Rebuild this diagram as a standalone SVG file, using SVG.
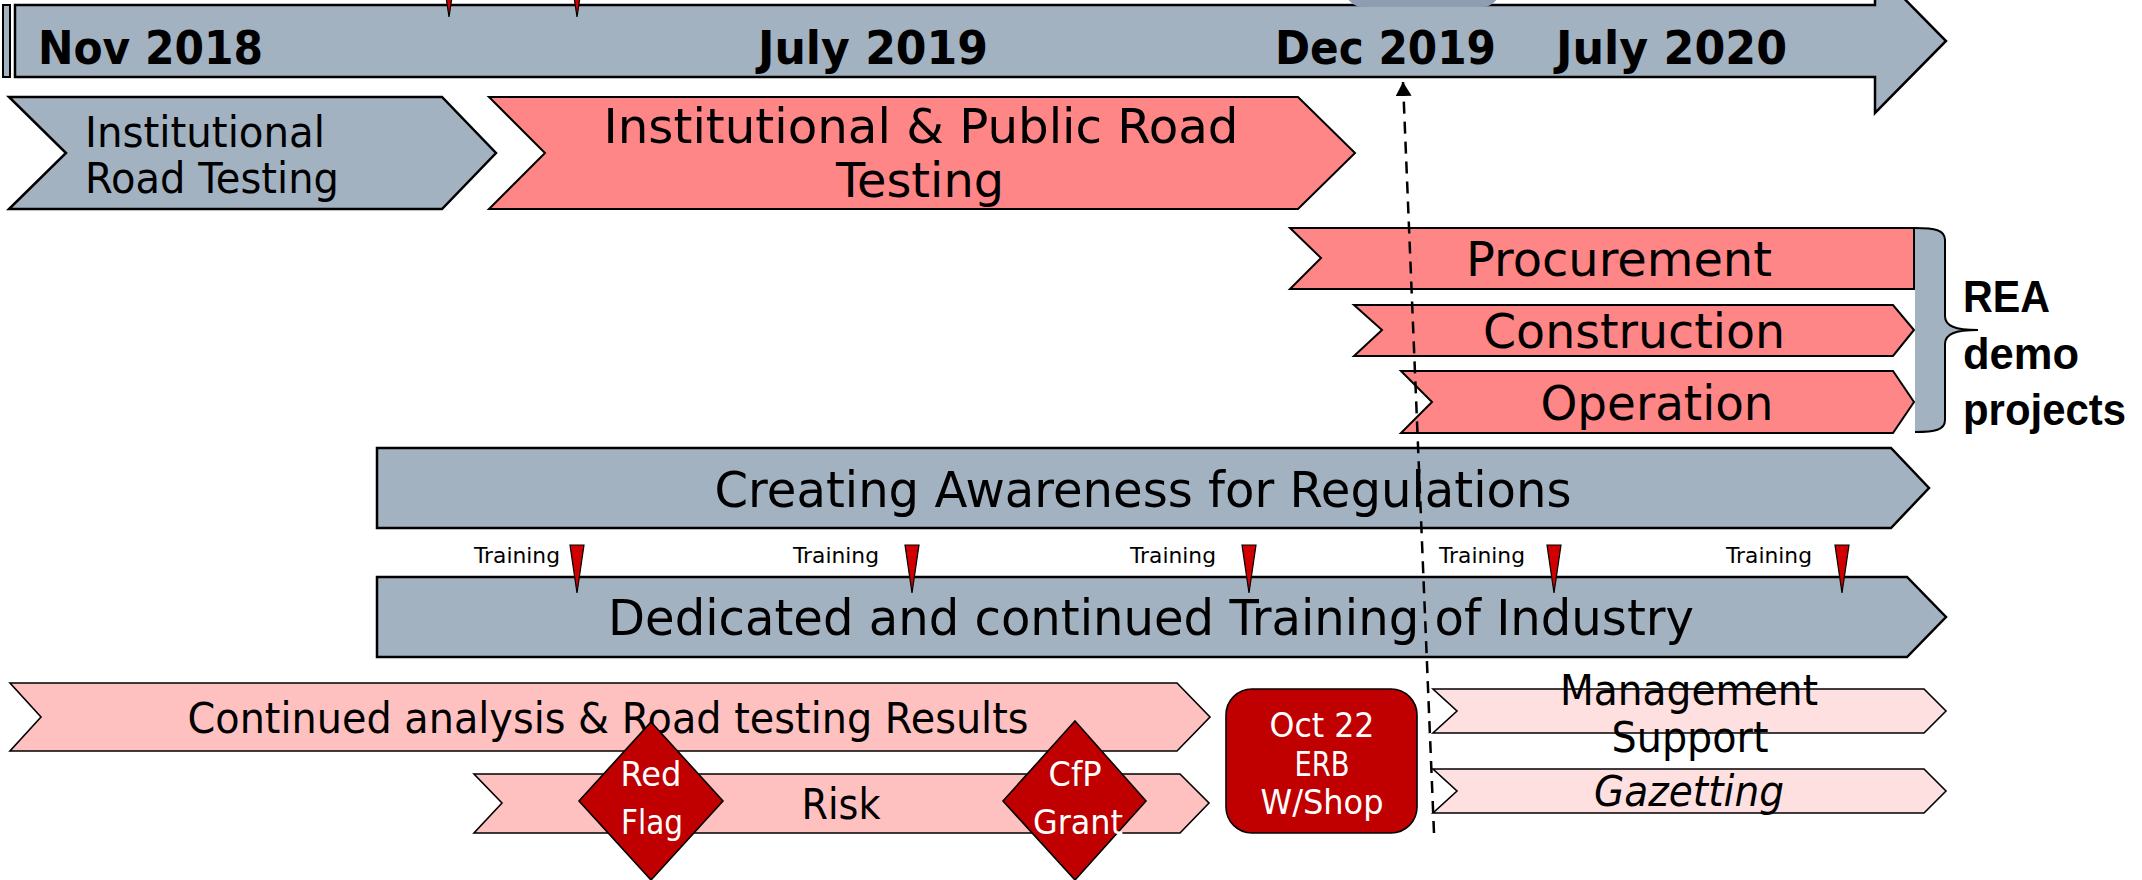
<svg xmlns="http://www.w3.org/2000/svg" width="2142" height="880" viewBox="0 0 2142 880">
<defs>
<style>
.gray{fill:#A3B2C1;stroke:#000;stroke-width:2.5}
.salmon{fill:#FF8686;stroke:#000;stroke-width:2}
.pink{fill:#FFC0C0;stroke:#000;stroke-width:1.6}
.lpink{fill:#FFE0E0;stroke:#000;stroke-width:1.6}
.dred{fill:#C00000;stroke:#000;stroke-width:1.6}
.mark{fill:#D00000;stroke:#000;stroke-width:1.2}
.t{font-family:"DejaVu Sans",Verdana,sans-serif;fill:#000}
.date{font-family:"DejaVu Sans",Verdana,sans-serif;font-weight:bold;font-size:46px;fill:#000}
.mid{text-anchor:middle}
.w{font-family:"DejaVu Sans",Verdana,sans-serif;fill:#fff;font-size:34px;text-anchor:middle}
.tr{font-family:"DejaVu Sans",Verdana,sans-serif;font-size:22px;fill:#000;text-anchor:end}
.rea{font-family:"Liberation Sans",Arial,sans-serif;font-weight:bold;font-size:44px;fill:#000}
.conn{fill:none;stroke:#000;stroke-width:2.5;stroke-dasharray:12 8}
</style>
<marker id="ah" markerUnits="userSpaceOnUse" markerWidth="14" markerHeight="16" viewBox="0 0 14 16" refX="14" refY="8" orient="auto">
<path d="M0,0 L14,8 L0,16 Z" fill="#000"/>
</marker>
</defs>
<rect width="2142" height="880" fill="#fff"/>

<g id="timeline">
<rect x="3" y="5" width="7" height="72" fill="#A3B2C1" stroke="#000" stroke-width="2"/>
<polygon class="gray" points="15,5 1875,5 1875,-31 1946,41 1875,113 1875,77 15,77"/>
<rect x="1345" y="-30" width="155" height="37" rx="18" fill="#8E9DB2"/>
<polygon class="mark" points="442,-30 456,-30 449,17"/>
<polygon class="mark" points="570,-30 584,-30 577,17"/>
<text class="date" x="38" y="64" textLength="225" lengthAdjust="spacingAndGlyphs">Nov 2018</text>
<text class="date" x="758" y="64" textLength="230" lengthAdjust="spacingAndGlyphs">July 2019</text>
<text class="date" x="1275" y="64" textLength="221" lengthAdjust="spacingAndGlyphs">Dec 2019</text>
<text class="date" x="1556" y="64" textLength="231" lengthAdjust="spacingAndGlyphs">July 2020</text>
</g>

<g id="institutional-road-testing">
<polygon class="gray" stroke-width="2" points="9,97 442,97 496,153 442,209 9,209 66,153"/>
<text class="t" x="85" y="147" font-size="42" textLength="240" lengthAdjust="spacingAndGlyphs">Institutional</text>
<text class="t" x="85" y="193" font-size="42" textLength="254" lengthAdjust="spacingAndGlyphs">Road Testing</text>
</g>

<g id="institutional-public-road-testing">
<polygon class="salmon" points="489,97 1298,97 1355,153 1298,209 489,209 545,153"/>
<text class="t mid" x="921" y="143" font-size="48" textLength="635" lengthAdjust="spacingAndGlyphs">Institutional &amp; Public Road</text>
<text class="t mid" x="920" y="197" font-size="48" textLength="168" lengthAdjust="spacingAndGlyphs">Testing</text>
</g>

<g id="procurement">
<polygon class="salmon" points="1290,228 1914,228 1914,289 1290,289 1321,258"/>
<text class="t mid" x="1619" y="276" font-size="48" textLength="306" lengthAdjust="spacingAndGlyphs">Procurement</text>
</g>

<g id="construction">
<polygon class="salmon" points="1354,305 1893,305 1914,330 1893,356 1354,356 1382,330"/>
<text class="t mid" x="1634" y="348" font-size="48" textLength="302" lengthAdjust="spacingAndGlyphs">Construction</text>
</g>

<g id="operation">
<polygon class="salmon" points="1401,371 1893,371 1914,402 1893,433 1401,433 1432,402"/>
<text class="t mid" x="1657" y="420" font-size="48" textLength="233" lengthAdjust="spacingAndGlyphs">Operation</text>
</g>

<g id="rea-demo-projects">
<path d="M1915,228 C1935,228 1945,230 1945,240 L1945,316 C1945,326 1955,330 1978,330 C1955,330 1945,334 1945,344 L1945,420 C1945,430 1935,432 1915,432 Z" fill="#A3B2C1"/>
<path d="M1915,228 C1935,228 1945,230 1945,240 L1945,316 C1945,326 1955,330 1978,330 C1955,330 1945,334 1945,344 L1945,420 C1945,430 1935,432 1915,432" fill="none" stroke="#000" stroke-width="2"/>
<text class="rea" x="1963" y="312" textLength="87" lengthAdjust="spacingAndGlyphs">REA</text>
<text class="rea" x="1963" y="369" textLength="116" lengthAdjust="spacingAndGlyphs">demo</text>
<text class="rea" x="1963" y="425" textLength="163" lengthAdjust="spacingAndGlyphs">projects</text>
</g>

<g id="creating-awareness">
<polygon class="gray" points="377,448 1891,448 1929,488 1891,528 377,528"/>
<text class="t mid" x="1143" y="507" font-size="50" textLength="857" lengthAdjust="spacingAndGlyphs">Creating Awareness for Regulations</text>
</g>

<g id="dedicated-training">
<polygon class="gray" points="377,577 1907,577 1946,617 1907,657 377,657"/>
<text class="t mid" x="1151" y="635" font-size="50" textLength="1086" lengthAdjust="spacingAndGlyphs">Dedicated and continued Training of Industry</text>
</g>

<g id="training-markers">
<text class="tr" x="560" y="563" textLength="86" lengthAdjust="spacingAndGlyphs">Training</text>
<polygon class="mark" points="570,545 584,545 577,593"/>
<text class="tr" x="879" y="563" textLength="86" lengthAdjust="spacingAndGlyphs">Training</text>
<polygon class="mark" points="905,545 919,545 912,593"/>
<text class="tr" x="1216" y="563" textLength="86" lengthAdjust="spacingAndGlyphs">Training</text>
<polygon class="mark" points="1242,545 1256,545 1249,593"/>
<text class="tr" x="1525" y="563" textLength="86" lengthAdjust="spacingAndGlyphs">Training</text>
<polygon class="mark" points="1547,545 1561,545 1554,593"/>
<text class="tr" x="1812" y="563" textLength="86" lengthAdjust="spacingAndGlyphs">Training</text>
<polygon class="mark" points="1835,545 1849,545 1842,593"/>
</g>

<g id="continued-analysis">
<polygon class="pink" points="10,683 1177,683 1210,717 1177,751 10,751 41,717"/>
<text class="t mid" x="608" y="733" font-size="42" textLength="841" lengthAdjust="spacingAndGlyphs">Continued analysis &amp; Road testing Results</text>
</g>

<g id="risk">
<polygon class="pink" points="474,774 1180,774 1209,803 1180,833 474,833 502,803"/>
<text class="t mid" x="841" y="819" font-size="42" textLength="79" lengthAdjust="spacingAndGlyphs">Risk</text>
</g>

<g id="red-flag">
<polygon class="dred" points="651,722 723,801 651,880 579,801"/>
<text class="w" x="651" y="786" textLength="61" lengthAdjust="spacingAndGlyphs">Red</text>
<text class="w" x="652" y="834" textLength="62" lengthAdjust="spacingAndGlyphs">Flag</text>
</g>

<g id="cfp-grant">
<polygon class="dred" points="1075,721 1146,801 1075,880 1003,801"/>
<text class="w" x="1075" y="786" textLength="53" lengthAdjust="spacingAndGlyphs">CfP</text>
<text class="w" x="1078" y="834" textLength="90" lengthAdjust="spacingAndGlyphs">Grant</text>
</g>

<g id="erb-workshop">
<rect class="dred" x="1226" y="689" width="191" height="144" rx="26"/>
<text class="w" x="1322" y="737" textLength="105" lengthAdjust="spacingAndGlyphs">Oct 22</text>
<text class="w" x="1322" y="776" textLength="55" lengthAdjust="spacingAndGlyphs">ERB</text>
<text class="w" x="1322" y="814" textLength="123" lengthAdjust="spacingAndGlyphs">W/Shop</text>
</g>

<g id="management-support">
<polygon class="lpink" points="1433,689 1924,689 1946,711 1924,733 1433,733 1457,711"/>
<text class="t mid" x="1689" y="705" font-size="42" textLength="258" lengthAdjust="spacingAndGlyphs">Management</text>
<text class="t mid" x="1690" y="752" font-size="42" textLength="157" lengthAdjust="spacingAndGlyphs">Support</text>
</g>

<g id="gazetting">
<polygon class="lpink" points="1433,769 1924,769 1946,791 1924,813 1433,813 1457,791"/>
<text class="t mid" x="1689" y="806" font-size="42" font-style="italic" textLength="190" lengthAdjust="spacingAndGlyphs">Gazetting</text>
</g>

<g id="connectors">
<line class="conn" x1="1434" y1="833" x2="1403" y2="82" marker-end="url(#ah)"/>
</g>
</svg>
